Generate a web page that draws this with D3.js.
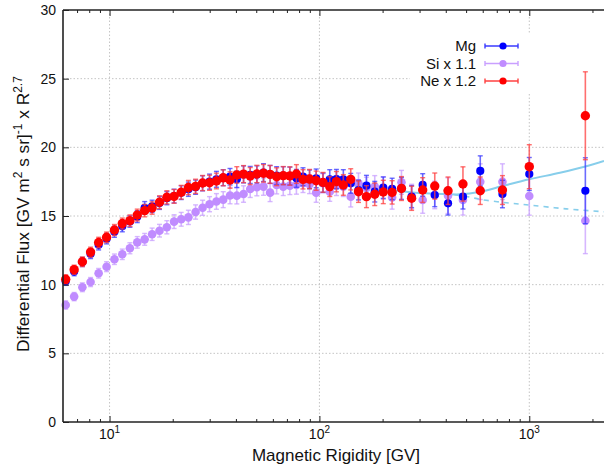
<!DOCTYPE html>
<html>
<head>
<meta charset="utf-8">
<script src="https://cdn.jsdelivr.net/npm/d3@7"></script>
<style>
  html, body { margin: 0; padding: 0; background: #fff; }
  svg { display: block; }
  text { font-family: "Liberation Sans", Arial, Helvetica, sans-serif; fill: #111; }
</style>
</head>
<body>
<svg id="chart" width="604" height="464"></svg>
<script>
// ---------------- data ----------------
const rigidity = [6.18, 6.78, 7.42, 8.12, 8.87, 9.68, 10.55, 11.5, 12.5, 13.55,
  14.7, 15.95, 17.3, 18.75, 20.3, 21.95, 23.75, 25.7, 27.75, 29.95,
  32.3, 34.8, 37.5, 40.4, 43.5, 46.8, 50.35, 54.15, 58.2, 62.55,
  67.25, 72.3, 77.7, 83.5, 89.75, 96.5, 104, 112, 120.5, 130,
  141, 153.5, 167.5, 183.5, 201.5, 222, 246, 275, 310.5, 354.5,
  410, 483, 584, 745, 1000, 1850];

const mgValues = [10.25, 10.95, 11.65, 12.25, 12.9, 13.35, 13.85, 14.25, 14.6, 14.95,
  15.6, 15.7, 15.95, 16.3, 16.45, 16.7, 16.95, 17.1, 17.38, 17.5,
  17.67, 17.79, 17.86, 17.67, 18.03, 17.99, 18.03, 18.16, 18.03, 17.94,
  17.94, 17.91, 17.74, 17.86, 17.67, 17.74, 17.43, 17.67, 17.69, 17.67,
  17.38, 16.89, 17.21, 16.77, 17.06, 16.97, 17.01, 16.41, 17.26, 16.53,
  15.92, 16.41, 18.28, 16.6, 18.06, 16.84];
const mgErrors = [0.3, 0.3, 0.33, 0.35, 0.37, 0.38, 0.4, 0.4, 0.42, 0.43,
  0.45, 0.45, 0.47, 0.48, 0.5, 0.5, 0.52, 0.52, 0.55, 0.55,
  0.58, 0.58, 0.6, 0.6, 0.62, 0.62, 0.62, 0.65, 0.65, 0.65,
  0.65, 0.65, 0.65, 0.65, 0.68, 0.68, 0.7, 0.7, 0.7, 0.7,
  0.72, 0.72, 0.75, 0.75, 0.78, 0.78, 0.8, 0.8, 0.82, 0.85,
  0.85, 0.9, 1.1, 1.0, 1.2, 2.4];

const siValues = [8.52, 9.13, 9.81, 10.19, 10.83, 11.31, 11.85, 12.21, 12.65, 13.08,
  13.3, 13.67, 13.93, 14.18, 14.59, 14.76, 14.9, 15.29, 15.6, 15.86,
  16.06, 16.19, 16.49, 16.48, 16.6, 16.97, 17.09, 17.14, 16.7, 17.26,
  17.14, 17.21, 17.26, 17.38, 17.31, 16.7, 17.38, 16.77, 17.21, 17.14,
  16.41, 17.38, 17.04, 17.14, 17.04, 16.35, 17.45, 16.41, 16.17, 16.53,
  16.48, 16.17, 17.5, 17.5, 16.46, 14.66];
const siErrors = [0.3, 0.3, 0.32, 0.33, 0.35, 0.36, 0.38, 0.38, 0.4, 0.42,
  0.43, 0.45, 0.46, 0.48, 0.5, 0.5, 0.52, 0.52, 0.55, 0.55,
  0.57, 0.58, 0.6, 0.6, 0.6, 0.62, 0.62, 0.63, 0.65, 0.65,
  0.65, 0.65, 0.67, 0.67, 0.68, 0.7, 0.7, 0.7, 0.72, 0.72,
  0.75, 0.75, 0.78, 0.8, 0.82, 0.85, 0.87, 0.9, 0.97, 1.0,
  1.3, 1.1, 1.3, 1.3, 1.4, 2.4];

const neValues = [10.39, 11.09, 11.67, 12.37, 13.07, 13.45, 13.98, 14.45, 14.66, 15.07,
  15.39, 15.58, 16.0, 16.36, 16.43, 16.73, 17.07, 17.16, 17.4, 17.42,
  17.55, 17.78, 17.62, 17.99, 18.05, 17.91, 18.06, 18.11, 18.03, 17.86,
  17.94, 17.91, 18.06, 17.67, 17.69, 17.57, 17.45, 17.14, 17.5, 17.26,
  17.67, 16.77, 16.41, 16.58, 16.75, 16.72, 17.0, 16.29, 16.89, 17.18,
  16.84, 17.33, 16.84, 16.89, 18.59, 22.3];
const neErrors = [0.32, 0.33, 0.35, 0.36, 0.38, 0.38, 0.4, 0.4, 0.42, 0.43,
  0.45, 0.45, 0.47, 0.48, 0.5, 0.5, 0.52, 0.52, 0.55, 0.55,
  0.57, 0.58, 0.6, 0.6, 0.62, 0.62, 0.63, 0.64, 0.65, 0.65,
  0.66, 0.67, 0.68, 0.7, 0.7, 0.7, 0.72, 0.72, 0.74, 0.75,
  0.77, 0.78, 0.8, 0.82, 0.85, 0.85, 0.87, 0.88, 0.9, 0.95,
  1.0, 1.25, 1.0, 1.05, 1.6, 3.2];

// fit curves
const fitR = [78, 100, 140, 194, 278, 404, 467, 584, 745, 1000, 1400, 1850, 2270];
const fitV = [17.6, 17.45, 17.25, 17.0, 16.72, 16.6, 16.58, 16.77, 17.18, 17.67, 18.15, 18.6, 19.0];
const dashR = [440, 520, 584, 745, 1000, 1500, 2270];
const dashV = [16.55, 16.38, 16.21, 16.0, 15.8, 15.52, 15.31];

const yTicks = [0, 5, 10, 15, 20, 25, 30];
const xMajorTicks = [10, 100, 1000];
const xTickLabels = [["10", "1"], ["10", "2"], ["10", "3"]];
const xMinorTicks = [7, 8, 9, 20, 30, 40, 50, 60, 70, 80, 90, 200, 300, 400, 500, 600, 700, 800, 900, 2000];

const seriesNames = ["Mg", "Si x 1.1", "Ne x 1.2"];

// ---------------- layout ----------------
const svg = d3.select("#chart");
const L = 63, R = 604, T = 10, B = 422;
const x = d3.scaleLog().domain([6, 2270]).range([L, R]);
const y = d3.scaleLinear().domain([0, 30]).range([B, T]);

const series = [
  { name: seriesNames[1], vals: siValues, errs: siErrors, color: "#c08cff", bar: "#c9a0ff", r: 4.3 },
  { name: seriesNames[0], vals: mgValues, errs: mgErrors, color: "#0000ff", bar: "#3a3aff", r: 4.1 },
  { name: seriesNames[2], vals: neValues, errs: neErrors, color: "#ff0000", bar: "#ff4040", r: 4.7 }
];

// grid
const grid = svg.append("g");
grid.selectAll("line.gy").data(yTicks.filter(v => v > 0 && v < 30)).join("line")
  .attr("x1", L).attr("x2", R).attr("y1", d => y(d)).attr("y2", d => y(d))
  .attr("stroke", "#c4c4c4").attr("stroke-width", 1).attr("stroke-dasharray", "1.5,2");
grid.selectAll("line.gx").data(xMajorTicks).join("line")
  .attr("x1", d => x(d)).attr("x2", d => x(d)).attr("y1", T).attr("y2", B)
  .attr("stroke", "#c4c4c4").attr("stroke-width", 1).attr("stroke-dasharray", "1.5,2");

// legend background (opaque key box)
svg.append("rect").attr("x", 410).attr("y", 34).attr("width", 194).attr("height", 58).attr("fill", "#fff");

// fit curves
const line = d3.line().x(d => x(d[0])).y(d => y(d[1])).curve(d3.curveCatmullRom);
svg.append("path").datum(dashR.map((r, i) => [r, dashV[i]]))
  .attr("d", line).attr("fill", "none").attr("stroke", "#87ceeb").attr("stroke-width", 1.6)
  .attr("stroke-dasharray", "5,5");
svg.append("path").datum(fitR.map((r, i) => [r, fitV[i]]))
  .attr("d", line).attr("fill", "none").attr("stroke", "#87ceeb").attr("stroke-width", 2);

// data
const plot = svg.append("g");
series.forEach(s => {
  const g = plot.append("g");
  const data = rigidity.map((r, i) => ({ r, v: s.vals[i], e: s.errs[i] }));
  g.selectAll("line.eb").data(data).join("line")
    .attr("x1", d => x(d.r)).attr("x2", d => x(d.r))
    .attr("y1", d => y(d.v - d.e)).attr("y2", d => y(d.v + d.e))
    .attr("stroke", s.bar).attr("stroke-width", 1.6).attr("opacity", 0.75);
  ["lo", "hi"].forEach(k => {
    g.selectAll("line.cap" + k).data(data).join("line")
      .attr("x1", d => x(d.r) - 2.5).attr("x2", d => x(d.r) + 2.5)
      .attr("y1", d => y(k === "lo" ? d.v - d.e : d.v + d.e))
      .attr("y2", d => y(k === "lo" ? d.v - d.e : d.v + d.e))
      .attr("stroke", s.bar).attr("stroke-width", 1.4).attr("opacity", 0.75);
  });
  g.selectAll("circle").data(data).join("circle")
    .attr("cx", d => x(d.r)).attr("cy", d => y(d.v)).attr("r", s.r)
    .attr("fill", s.color);
});

// axes
const axisStyle = g => {
  g.select(".domain").remove();
  g.selectAll(".tick line").attr("stroke", "#222").attr("stroke-width", 1);
};
svg.append("g").attr("transform", `translate(0,${B})`)
  .call(d3.axisBottom(x).tickValues(xMajorTicks).tickSize(-6).tickFormat(() => ""))
  .call(axisStyle);
svg.append("g").attr("transform", `translate(0,${B})`)
  .call(d3.axisBottom(x).tickValues(xMinorTicks).tickSize(-3).tickFormat(() => ""))
  .call(axisStyle);
svg.append("g").attr("transform", `translate(0,${T})`)
  .call(d3.axisTop(x).tickValues(xMajorTicks).tickSize(-6).tickFormat(() => ""))
  .call(axisStyle);
svg.append("g").attr("transform", `translate(0,${T})`)
  .call(d3.axisTop(x).tickValues(xMinorTicks).tickSize(-3).tickFormat(() => ""))
  .call(axisStyle);
const yAx = svg.append("g").attr("transform", `translate(${L},0)`)
  .call(d3.axisLeft(y).tickValues(yTicks).tickSize(-6).tickPadding(7).tickFormat(d3.format("d")))
  .call(axisStyle);
yAx.selectAll("text").attr("font-size", 14).attr("fill", "#111")
  .style("font-family", "'Liberation Sans', Arial, sans-serif");

// x tick labels with superscripts
const xl = svg.append("g");
xMajorTicks.forEach((t, i) => {
  const tx = xl.append("text").attr("x", x(t)).attr("y", 439).attr("text-anchor", "middle").attr("font-size", 14);
  tx.append("tspan").text(xTickLabels[i][0]);
  tx.append("tspan").attr("dy", -6).attr("font-size", 10).text(xTickLabels[i][1]);
});

// axis frame
svg.append("line").attr("x1", L).attr("x2", L).attr("y1", T).attr("y2", B).attr("stroke", "#222").attr("stroke-width", 1.6);
svg.append("line").attr("x1", L).attr("x2", R).attr("y1", B).attr("y2", B).attr("stroke", "#222").attr("stroke-width", 1.6);
svg.append("line").attr("x1", L).attr("x2", R).attr("y1", T).attr("y2", T).attr("stroke", "#222").attr("stroke-width", 1.6);

// axis titles
svg.append("text").attr("x", 336).attr("y", 461).attr("text-anchor", "middle").attr("font-size", 17)
  .text("Magnetic Rigidity [GV]");
const yt = svg.append("text").attr("transform", "translate(29,214) rotate(-90)")
  .attr("text-anchor", "middle").attr("font-size", 17.3);
yt.append("tspan").text("Differential Flux [GV m");
yt.append("tspan").attr("dy", -7).attr("font-size", 12).text("2");
yt.append("tspan").attr("dy", 7).text(" s sr]");
yt.append("tspan").attr("dy", -7).attr("font-size", 12).text("-1");
yt.append("tspan").attr("dy", 7).text(" x R");
yt.append("tspan").attr("dy", -7).attr("font-size", 12).text("2.7");

// legend
const legendOrder = [series[1], series[0], series[2]];
legendOrder.forEach((s, i) => {
  const ly = 46 + i * 17.5;
  const g = svg.append("g");
  g.append("text").attr("x", 476).attr("y", ly + 5).attr("text-anchor", "end").attr("font-size", 15).text(s.name);
  g.append("line").attr("x1", 485).attr("x2", 518).attr("y1", ly).attr("y2", ly).attr("stroke", s.bar).attr("stroke-width", 1.6);
  g.append("line").attr("x1", 485).attr("x2", 485).attr("y1", ly - 2.5).attr("y2", ly + 2.5).attr("stroke", s.bar).attr("stroke-width", 1.4);
  g.append("line").attr("x1", 518).attr("x2", 518).attr("y1", ly - 2.5).attr("y2", ly + 2.5).attr("stroke", s.bar).attr("stroke-width", 1.4);
  g.append("circle").attr("cx", 503).attr("cy", ly).attr("r", 3.6).attr("fill", s.color);
});
</script>
</body>
</html>
